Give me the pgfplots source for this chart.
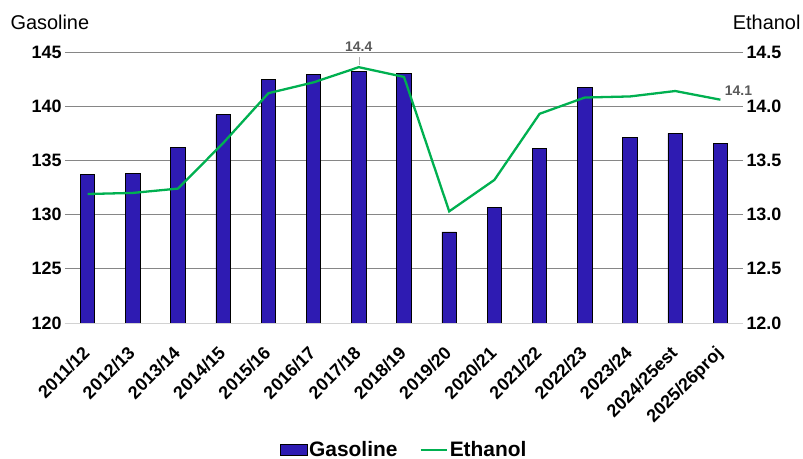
\documentclass[border=0pt]{standalone}
\usepackage{pgfplots}
\pgfplotsset{compat=1.18}
\usepackage{fontspec}
\setmainfont{Liberation Sans}
\definecolor{barblue}{RGB}{46,27,178}
\definecolor{ethgreen}{RGB}{0,176,80}
\definecolor{gridgray}{RGB}{134,134,134}
\definecolor{lblgray}{RGB}{89,89,89}

\pgfplotstableread{
x gas eth
0 133.7 13.19
1 133.8 13.20
2 136.2 13.24
3 139.2 13.66
4 142.5 14.12
5 142.9 14.22
6 143.2 14.36
7 143.0 14.27
8 128.4 13.03
9 130.7 13.32
10 136.1 13.93
11 141.7 14.08
12 137.1 14.09
13 137.5 14.14
14 136.6 14.06
}\datatable

\begin{document}
\begin{tikzpicture}
\path[use as bounding box] (-65bp,-136bp) rectangle (738bp,323bp);
\begin{axis}[
  scale only axis, width=678bp, height=271bp,
  at={(0,0)}, anchor=south west,
  xmin=-0.5, xmax=14.5, ymin=120, ymax=145,
  ytick={120,125,...,145},
  xtick={0,...,14},
  xticklabels={2011/12,2012/13,2013/14,2014/15,2015/16,2016/17,2017/18,2018/19,2019/20,2020/21,2021/22,2022/23,2023/24,2024/25est,2025/26proj},
  x tick label style={xshift=-6bp, yshift=-21bp, rotate=45, anchor=north east, font=\bfseries\fontsize{18}{18}\selectfont, inner sep=0.5pt},
  y tick label style={font=\bfseries\fontsize{18}{18}\selectfont},
  /pgf/number format/assume math mode=true,
  major tick length=0pt,
  axis line style={draw=none},
  ymajorgrids, grid style={gridgray, line width=0.8pt},
  clip=false,
]
\addplot[ybar, bar width=0.32, fill=barblue, draw=black, line width=0.8pt] table[x=x, y=gas] {\datatable};
\draw[lightgray!70, line width=1pt] (axis cs:-0.5,120) -- (axis cs:14.5,120);
\end{axis}
\begin{axis}[
  scale only axis, width=678bp, height=271bp,
  at={(0,0)}, anchor=south west,
  xmin=-0.5, xmax=14.5, ymin=12, ymax=14.5,
  ytick={12,12.5,...,14.5},
  axis y line*=right, axis x line=none,
  axis line style={draw=none},
  major tick length=0pt,
  y tick label style={font=\bfseries\fontsize{18}{18}\selectfont, /pgf/number format/.cd, fixed, fixed zerofill, precision=1},
  /pgf/number format/assume math mode=true,
  clip=false,
  legend style={at={(0.5,-0.469)}, anchor=center, draw=none, fill=none,
    font=\bfseries\fontsize{21}{21}\selectfont, legend columns=2,
    /tikz/every even column/.append style={column sep=20bp},
    inner sep=0pt},
  legend cell align=left,
]
\addlegendimage{legend image code/.code={\draw[fill=barblue, draw=black, line width=0.6pt] (0bp,-5.5bp) rectangle (27bp,5.5bp);}}
\addlegendentry{Gasoline}
\addplot[ethgreen, line width=2.3pt, no marks, legend image code/.code={\draw[ethgreen, line width=2.3pt] (0bp,0bp) -- (26bp,0bp);}] table[x=x, y=eth] {\datatable};
\addlegendentry{Ethanol}
\draw[gray!60, line width=0.6pt] ([yshift=2bp]axis cs:6,14.36) -- ([yshift=10bp]axis cs:6,14.36);
\node[font=\bfseries\fontsize{14}{14}\selectfont, text=lblgray, anchor=south] at (axis cs:6,14.36) [yshift=12bp] {14.4};
\node[font=\bfseries\fontsize{14}{14}\selectfont, text=lblgray, anchor=west] at (axis cs:14,14.06) [xshift=1bp, yshift=9bp] {14.1};
\end{axis}
\node[font=\fontsize{20}{20}\selectfont, anchor=west] at (-58bp,301bp) {Gasoline};
\node[font=\fontsize{20}{20}\selectfont, anchor=east] at (739bp,301bp) {Ethanol};
\end{tikzpicture}
\end{document}
